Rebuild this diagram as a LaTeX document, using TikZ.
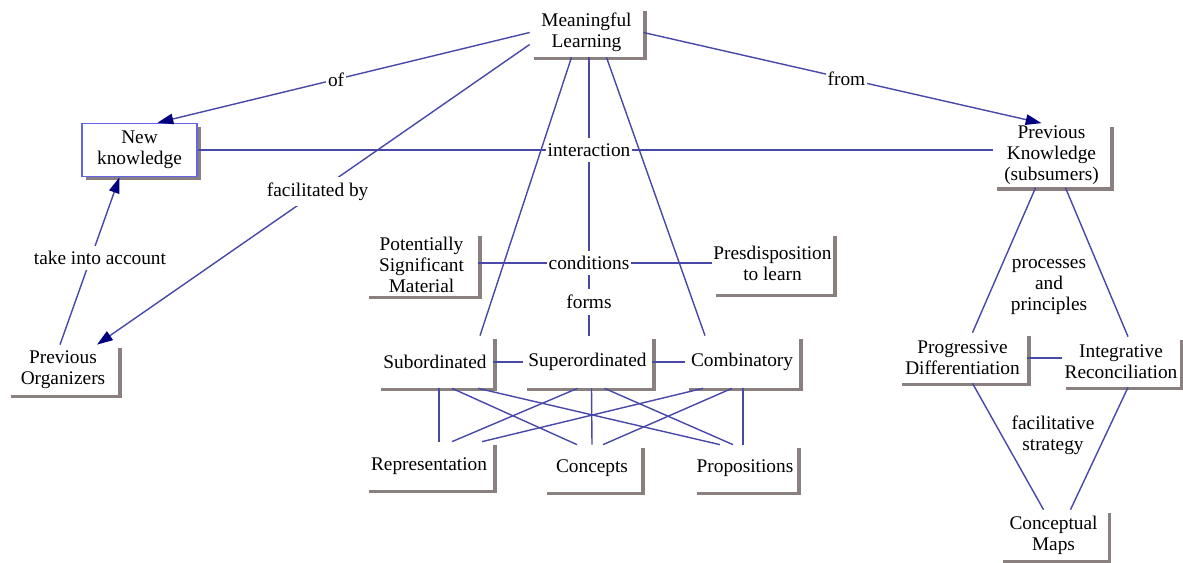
\documentclass[tikz,border=0pt]{standalone}
\usepackage{fontspec}
\setmainfont{Liberation Serif}
\usepackage{xcolor}
\usepackage{tikz}
\usetikzlibrary{shapes,arrows,positioning,calc,shadows,arrows.meta}

\definecolor{linkblue}{RGB}{72,72,168}
\definecolor{tipblue}{RGB}{0,0,128}
\definecolor{shadegray}{RGB}{138,128,128}
\definecolor{boxblue}{RGB}{100,100,235}

\begin{document}
\begin{tikzpicture}[x=0.02cm, y=-0.02cm,
        concept/.style 2 args={fill=white, align=center, inner sep=0pt,
            minimum width=#1*0.02cm, minimum height=#2*0.02cm,
            font=\fontsize{11pt}{12pt}\selectfont,
            drop shadow={shadow xshift=0.07cm, shadow yshift=-0.07cm, fill=shadegray, opacity=1}},
        phrase/.style={align=center, inner xsep=1pt, inner ysep=3pt,
            font=\fontsize{11pt}{12pt}\selectfont},
        link/.style={draw=linkblue, line width=0.8pt},
        arrow/.style={link, -{Triangle[length=9pt, width=6pt, color=tipblue]}}]
        \useasboundingbox (0,0) rectangle (1183,563);

        % Main concept
        \node[concept={113}{49}] (ml) at (586.5,32.5) {Meaningful\\Learning};

        % Left side
        \node[concept={115}{53}, draw=boxblue, line width=0.9pt] (nk) at (139.5,150) {New\\knowledge};
        \node[concept={110}{50}] (po) at (63,370) {Previous\\Organizers};

        % Right side
        \node[concept={117}{64}] (pk) at (1051.5,155.5) {Previous\\Knowledge\\(subsumers)};
        \node[concept={129}{50}] (pd) at (962.5,358) {Progressive\\Differentiation};
        \node[concept={118}{50}] (ir) at (1121,362) {Integrative\\Reconciliation};
        \node[concept={108}{50}] (cm) at (1053.5,535) {Conceptual\\Maps};

        % Conditions
        \node[concept={113}{63}] (psm) at (421.5,264.5) {Potentially\\Significant\\Material};
        \node[concept={121}{61}] (pl) at (772.5,263.5) {Presdisposition\\to learn};

        % Forms
        \node[concept={116}{52}] (sub) at (435,362) {Subordinated};
        \node[concept={129}{52}] (super) at (587.5,362) {Superordinated};
        \node[concept={114}{52}] (comb) at (742,362) {Combinatory};

        % Types
        \node[concept={128}{48}] (rep) at (429,466) {Representation};
        \node[concept={98}{47}] (con) at (592,468.5) {Concepts};
        \node[concept={104}{47}] (prop) at (745,468.5) {Propositions};

        % Linking phrases
        \node[phrase] (interaction) at (589,150) {interaction};
        \node[phrase] (conditions) at (589,263) {conditions};
        \node[phrase] (forms) at (589,302) {forms};
        \node[phrase] (pp) at (1049,287) {processes\\and\\principles};
        \node[phrase] (fs) at (1053,435) {facilitative\\strategy};

        % Arrows with labels
        \draw[arrow] (ml.west) -- node[phrase, fill=white, pos=0.52] (of) {of} ($(nk.north)+(18,0)$);
        \draw[arrow] (ml.east) -- node[phrase, fill=white, pos=0.51] (from) {from} ($(pk.north)+(-10,0)$);
        \draw[arrow] ($(ml.west)+(0,12)$) -- node[phrase, fill=white, pos=0.49] (facil) {facilitated by} ($(po.north)+(34,0)$);
        \draw[arrow] ($(po.north)+(-3,0)$) -- node[phrase, fill=white, pos=0.52, xshift=0.18cm] (account) {take into account} ($(nk.south)+(-20,0)$);

        % Interaction
        \draw[link] (nk.east |- interaction) -- (interaction) -- (interaction -| pk.west);
        \draw[link] (interaction |- ml.south) -- (interaction) -- (conditions) -- (forms) -- (forms |- super.north);
        \draw[link] (psm.east |- conditions) -- (conditions) -- (conditions -| pl.west);

        % Forms of learning
        \draw[link] ($(ml.south)+(-15,0)$) -- ($(sub.north)+(45,0)$);
        \draw[link] ($(ml.south)+(20,0)$) -- ($(comb.north)+(-37,0)$);
        \draw[link] (sub.east) -- (super.west);
        \draw[link] (super.east) -- (comb.west);

        % Types of learning
        \draw[link] ($(sub.south)+(4,0)$) -- ($(rep.north)+(10,0)$);
        \draw[link] ($(sub.south)+(17,0)$) -- ($(con.north)+(-15,0)$);
        \draw[link] ($(sub.south)+(43,0)$) -- ($(prop.north)+(-25,0)$);
        \draw[link] ($(super.south)+(-10,0)$) -- ($(rep.north)+(23,0)$);
        \draw[link] ($(super.south)+(4,0)$) -- ($(con.north)+(0,0)$);
        \draw[link] ($(super.south)+(17,0)$) -- ($(prop.north)+(-12,0)$);
        \draw[link] ($(comb.south)+(-39,0)$) -- ($(rep.north)+(53,0)$);
        \draw[link] ($(comb.south)+(-10,0)$) -- ($(con.north)+(11,0)$);
        \draw[link] ($(comb.south)+(1,0)$) -- ($(prop.north)+(-2,0)$);

        % Processes and principles
        \draw[link] ($(pk.south)+(-16,0)$) -- ($(pd.north)+(10,0)$);
        \draw[link] ($(pk.south)+(14,0)$) -- ($(ir.north)+(7,0)$);
        \draw[link] (pd.east) -- (pd.east -| ir.west);
        \draw[link] ($(pd.south)+(10,0)$) -- ($(cm.north)+(-10,0)$);
        \draw[link] ($(ir.south)+(7,0)$) -- ($(cm.north)+(17,0)$);
    \end{tikzpicture}
\end{document}
